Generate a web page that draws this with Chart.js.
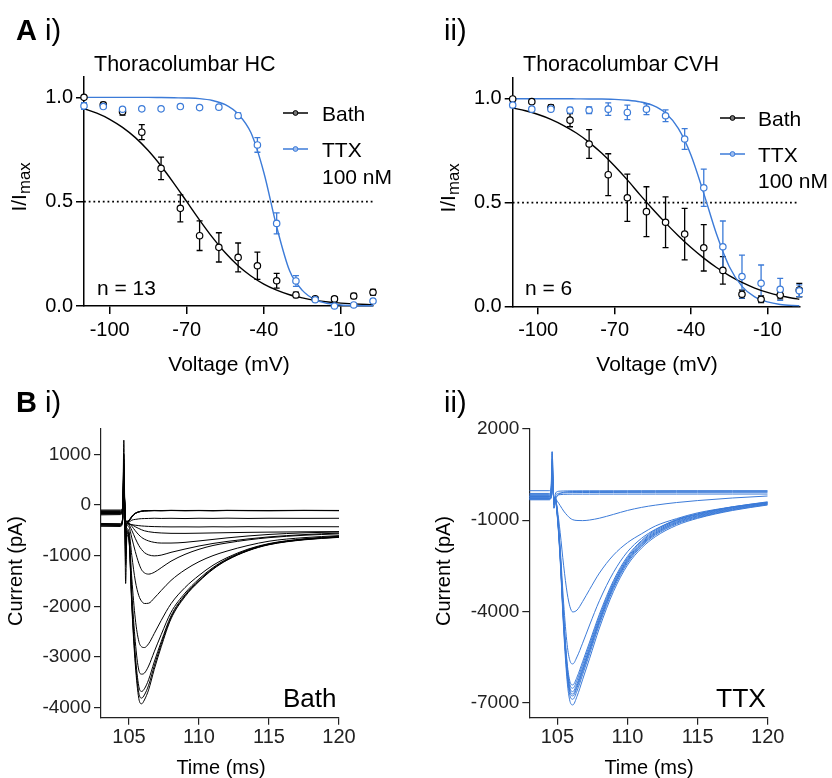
<!DOCTYPE html>
<html>
<head>
<meta charset="utf-8">
<script src="https://cdn.jsdelivr.net/npm/chart.js@4.4.1/dist/chart.umd.min.js"></script>
<style>
    body { margin: 0; background: #fff; }
    #fig { position: relative; width: 832px; height: 778px; font-family: "Liberation Sans", Arial, sans-serif; color: #000; overflow: hidden; }
    #fig canvas { position: absolute; }
    .t { position: absolute; white-space: nowrap; line-height: 1; transform: translateY(-50%); }
    .c { position: absolute; white-space: nowrap; line-height: 1; transform: translate(-50%, -50%); }
    .r { position: absolute; white-space: nowrap; line-height: 1; transform: translate(-50%, -50%) rotate(-90deg); }
    .r sub { font-size: 0.8em; vertical-align: -0.25em; }
</style>
</head>
<body>
<div id="fig">
    <canvas id="hcChart" width="416" height="390" style="left:0;top:0"></canvas>
    <canvas id="cvhChart" width="416" height="390" style="left:416px;top:0"></canvas>
    <canvas id="bathChart" width="416" height="388" style="left:0;top:390px"></canvas>
    <canvas id="ttxChart" width="416" height="388" style="left:416px;top:390px"></canvas>

    <div class="t" style="left:16px;top:30px;font-size:29px"><b>A</b> i)</div>
    <div class="t" style="left:444px;top:30px;font-size:29px">ii)</div>
    <div class="t" style="left:16px;top:402px;font-size:29px"><b>B</b> i)</div>
    <div class="t" style="left:444px;top:402px;font-size:29px">ii)</div>

    <div class="t" style="left:94px;top:65px;font-size:21.5px">Thoracolumbar HC</div>
    <div class="t" style="left:523px;top:65px;font-size:21.5px">Thoracolumbar CVH</div>

    <div class="t" style="left:322px;top:113px;font-size:21px">Bath</div>
    <div class="t" style="left:322px;top:149px;font-size:21px">TTX</div>
    <div class="t" style="left:322px;top:176px;font-size:21px">100 nM</div>
    <div class="t" style="left:758px;top:118px;font-size:21px">Bath</div>
    <div class="t" style="left:758px;top:154px;font-size:21px">TTX</div>
    <div class="t" style="left:758px;top:180px;font-size:21px">100 nM</div>

    <div class="t" style="left:97px;top:287px;font-size:21px">n = 13</div>
    <div class="t" style="left:525px;top:287px;font-size:21px">n = 6</div>

    <div class="r" style="left:21px;top:187px;font-size:21px">I/I<sub>max</sub></div>
    <div class="r" style="left:450px;top:188px;font-size:21px">I/I<sub>max</sub></div>
    <div class="c" style="left:229px;top:363px;font-size:21px">Voltage (mV)</div>
    <div class="c" style="left:657px;top:363px;font-size:21px">Voltage (mV)</div>

    <div class="r" style="left:15px;top:571px;font-size:20px">Current (pA)</div>
    <div class="r" style="left:443px;top:571px;font-size:20px">Current (pA)</div>
    <div class="c" style="left:221px;top:767px;font-size:20px">Time (ms)</div>
    <div class="c" style="left:649px;top:767px;font-size:20px">Time (ms)</div>
    <div class="t" style="left:283px;top:698px;font-size:26px">Bath</div>
    <div class="t" style="left:716px;top:698px;font-size:26.5px">TTX</div>
</div>

<script>
    const FONT = '"Liberation Sans", Arial, sans-serif';
    const BLACK = '#000';
    const BLUE = '#3c7bd8';

    /** steady-state inactivation, I/Imax (mean, SEM) **/
    const voltages = [-110, -102.5, -95, -87.5, -80, -72.5, -65, -57.5, -50, -42.5, -35, -27.5, -20, -12.5, -5, 2.5];

    const hcBath    = [1.0, 0.964, 0.931, 0.833, 0.660, 0.468, 0.337, 0.281, 0.233, 0.193, 0.121, 0.053, 0.034, 0.034, 0.048, 0.066];
    const hcBathSem = [0.006, 0.012, 0.016, 0.036, 0.054, 0.065, 0.071, 0.070, 0.069, 0.065, 0.035, 0.013, 0.010, 0.010, 0.012, 0.014];
    const hcTtx     = [0.959, 0.956, 0.943, 0.945, 0.945, 0.956, 0.951, 0.953, 0.912, 0.772, 0.396, 0.120, 0.030, 0.0, 0.005, 0.024];
    const hcTtxSem  = [0.016, 0.008, 0.006, 0.005, 0.005, 0.004, 0.004, 0.005, 0.013, 0.035, 0.050, 0.026, 0.008, 0.005, 0.005, 0.008];

    const cvhBath    = [0.999, 0.986, 0.958, 0.897, 0.782, 0.634, 0.523, 0.456, 0.405, 0.348, 0.282, 0.173, 0.058, 0.034, 0.054, 0.078];
    const cvhBathSem = [0.005, 0.006, 0.012, 0.032, 0.069, 0.101, 0.114, 0.120, 0.122, 0.124, 0.112, 0.066, 0.020, 0.016, 0.018, 0.032];
    const cvhTtx     = [0.970, 0.950, 0.950, 0.945, 0.945, 0.950, 0.934, 0.950, 0.918, 0.806, 0.571, 0.287, 0.143, 0.111, 0.082, 0.075];
    const cvhTtxSem  = [0.013, 0.005, 0.010, 0.013, 0.016, 0.030, 0.035, 0.026, 0.028, 0.050, 0.090, 0.124, 0.104, 0.088, 0.053, 0.028];

    /** Boltzmann fits, sampled **/
    const fitVoltages = [-110, -105, -100, -95, -90, -85, -80, -75, -70, -65, -60, -55, -50, -45, -40, -35, -30, -25, -20, -15, -10, -5, 0, 2.5];
    const hcBathFit  = [0.946, 0.924, 0.895, 0.856, 0.807, 0.745, 0.671, 0.588, 0.500, 0.412, 0.329, 0.255, 0.193, 0.144, 0.105, 0.076, 0.054, 0.039, 0.027, 0.019, 0.014, 0.010, 0.007, 0.006];
    const hcTtxFit   = [1.0, 1.0, 1.0, 1.0, 1.0, 1.0, 0.999, 0.998, 0.997, 0.994, 0.985, 0.965, 0.920, 0.830, 0.640, 0.380, 0.170, 0.075, 0.030, 0.012, 0.005, 0.002, 0.001, 0.001];
    const cvhBathFit = [0.956, 0.942, 0.924, 0.901, 0.871, 0.835, 0.790, 0.737, 0.676, 0.609, 0.537, 0.468, 0.402, 0.340, 0.283, 0.232, 0.187, 0.148, 0.115, 0.088, 0.067, 0.051, 0.039, 0.034];
    const cvhTtxFit  = [1.0, 1.0, 1.0, 1.0, 1.0, 0.9995, 0.999, 0.999, 0.997, 0.993, 0.985, 0.968, 0.931, 0.857, 0.728, 0.544, 0.348, 0.192, 0.096, 0.045, 0.021, 0.009, 0.004, 0.003];

    const voltageMin = -110;
    const voltageMax = 2.5;
    const voltageTicks = [-100, -70, -40, -10];
    const ratioTicks = [0, 0.5, 1];
    const halfMax = 0.5;

    /** example current traces (pA) **/
    const traceTimes = [103, 104.4, 104.55, 104.63, 104.7, 104.76, 104.85, 105, 105.2, 105.45, 105.7, 105.9, 106.1, 106.4, 106.8, 107.3, 108, 109, 110, 111, 112, 113.5, 115, 117.5, 120];

    const bathTraces = [
        [-420, -425, -300, 1280, -200, -1550, -600, -700, -2000, -3150, -3820, -3925, -3850, -3650, -3250, -2800, -2250, -1810, -1510, -1270, -1090, -905, -785, -688, -640],
        [-410, -405, -290, 1000, -180, -1180, -560, -680, -1940, -3065, -3710, -3813, -3750, -3560, -3180, -2750, -2220, -1790, -1500, -1260, -1085, -900, -780, -683, -635],
        [-395, -400, -280, 900, -170, -1000, -540, -660, -1880, -2960, -3580, -3682, -3630, -3450, -3100, -2700, -2190, -1775, -1490, -1255, -1080, -895, -776, -679, -630],
        [-385, -390, -270, 800, -160, -900, -520, -630, -1720, -2700, -3260, -3340, -3320, -3180, -2900, -2560, -2120, -1740, -1460, -1235, -1065, -885, -770, -675, -624],
        [-375, -380, -260, 750, -150, -800, -500, -590, -1450, -2250, -2690, -2800, -2815, -2740, -2540, -2280, -1950, -1630, -1390, -1190, -1040, -872, -762, -668, -618],
        [-365, -370, -250, 700, -140, -700, -470, -520, -1000, -1500, -1790, -1900, -1945, -1940, -1840, -1690, -1490, -1280, -1120, -1000, -910, -800, -715, -645, -605],
        [-195, -190, -110, 650, -80, -600, -400, -430, -650, -920, -1150, -1280, -1340, -1365, -1330, -1240, -1110, -975, -875, -800, -750, -690, -645, -598, -570],
        [-180, -175, -100, 600, -70, -500, -370, -390, -500, -660, -800, -880, -940, -985, -1005, -990, -935, -870, -810, -760, -720, -670, -630, -585, -555],
        [-170, -165, -95, 550, -60, -450, -350, -360, -420, -510, -590, -640, -675, -710, -738, -752, -752, -738, -710, -680, -650, -612, -582, -550, -532],
        [-160, -155, -90, 500, -55, -420, -360, -370, -390, -430, -465, -490, -510, -528, -543, -553, -560, -561, -557, -552, -547, -541, -536, -530, -526],
        [-150, -150, -85, 460, -50, -400, -370, -380, -390, -400, -408, -414, -418, -423, -427, -430, -433, -432, -434, -430, -433, -429, -432, -428, -430],
        [-140, -140, -80, 420, -40, -380, -350, -340, -300, -285, -275, -270, -268, -266, -262, -266, -263, -268, -262, -265, -260, -266, -262, -264, -263],
        [-130, -130, -70, 380, -30, -350, -340, -320, -240, -170, -140, -125, -118, -115, -112, -114, -110, -113, -111, -114, -110, -112, -113, -110, -112],
        [-115, -115, -60, 340, -20, -330, -330, -310, -230, -165, -135, -122, -116, -113, -110, -112, -108, -111, -109, -112, -108, -110, -111, -108, -110],
        [-100, -100, -55, 300, -20, -310, -320, -300, -220, -160, -132, -120, -114, -111, -108, -110, -106, -109, -107, -110, -106, -108, -109, -106, -108],
        [-160, -160, -90, 260, -60, -300, -330, -320, -235, -168, -138, -124, -117, -114, -111, -113, -109, -112, -110, -113, -109, -111, -112, -109, -111],
    ];

    const ttxTraces = [
        [-300, -300, -250, 1250, 200, -600, -350, -900, -2300, -4600, -6300, -6960, -7080, -6800, -6250, -5550, -4550, -3350, -2480, -1920, -1540, -1170, -940, -680, -500],
        [-280, -280, -230, 900, 100, -450, -330, -865, -2231, -4473, -6133, -6775, -6894, -6623, -6087, -5399, -4427, -3256, -2410, -1861, -1490, -1127, -915, -660, -485],
        [-260, -260, -210, 700, 50, -400, -310, -837, -2185, -4396, -6034, -6667, -6784, -6517, -5988, -5310, -4351, -3196, -2361, -1819, -1454, -1095, -890, -640, -470],
        [-240, -240, -190, 600, 0, -350, -290, -813, -2151, -4348, -5974, -6602, -6719, -6453, -5929, -5255, -4302, -3156, -2326, -1788, -1426, -1069, -865, -620, -455],
        [-220, -220, -170, 500, -20, -330, -270, -788, -2114, -4291, -5903, -6525, -6641, -6378, -5858, -5190, -4246, -3109, -2288, -1755, -1395, -1042, -845, -600, -440],
        [-200, -200, -150, 450, -30, -310, -250, -760, -2068, -4214, -5803, -6417, -6531, -6271, -5759, -5100, -4170, -3049, -2239, -1713, -1359, -1010, -820, -580, -425],
        [-180, -180, -130, 400, -40, -300, -230, -732, -2021, -4137, -5704, -6310, -6422, -6166, -5660, -5011, -4094, -2989, -2190, -1672, -1322, -979, -800, -560, -410],
        [-300, -300, -240, 650, 30, -380, -320, -780, -1900, -3740, -5100, -5630, -5730, -5500, -5050, -4450, -3650, -2720, -2040, -1600, -1300, -1000, -790, -570, -430],
        [-300, -300, -240, 550, 0, -350, -320, -650, -1400, -2500, -3400, -3850, -4020, -3960, -3680, -3280, -2740, -2150, -1740, -1450, -1190, -950, -760, -560, -395],
        [-150, -150, -100, 500, 0, -330, -300, -380, -520, -700, -840, -930, -985, -1010, -1015, -995, -935, -810, -680, -580, -505, -420, -355, -270, -205],
        [-30, -30, 10, 1250, 300, -450, -150, -60, -45, -40, -38, -36, -35, -35, -34, -33, -33, -32, -32, -31, -31, -30, -30, -30, -30],
        [-120, -120, -80, 1000, 200, -610, -250, -130, -110, -100, -96, -94, -92, -92, -90, -90, -88, -88, -86, -86, -85, -84, -84, -83, -82],
        [-220, -220, -170, 800, 100, -500, -300, -180, -160, -150, -148, -146, -145, -145, -144, -144, -143, -143, -142, -142, -141, -141, -140, -140, -140],
        [-330, -330, -280, 600, 0, -400, -320, -200, -120, -80, -65, -60, -58, -56, -55, -55, -54, -54, -53, -53, -52, -52, -52, -51, -51],
    ];

    const timeMin = 103;
    const timeMax = 120;
    const timeTicks = [105, 110, 115, 120];
    const bathCurrentTicks = [1000, 0, -1000, -2000, -3000, -4000];
    const ttxCurrentTicks = [2000, -1000, -4000, -7000];

    const pts = (xs, ys) => xs.map((x, i) => ({x: x, y: ys[i]}));

    /** SEM bars under the points **/
    const errorBars = {
        id: 'errorBars',
        beforeDatasetsDraw(chart) {
            const {ctx, scales: {x, y}} = chart;
            chart.data.datasets.forEach(ds => {
                if (!ds.errors) return;
                ctx.save();
                ctx.strokeStyle = ds.borderColor;
                ctx.lineWidth = 1.3;
                ds.data.forEach((p, i) => {
                    const e = ds.errors[i];
                    const px = x.getPixelForValue(p.x);
                    const top = y.getPixelForValue(p.y + e);
                    const bot = y.getPixelForValue(p.y - e);
                    ctx.beginPath();
                    ctx.moveTo(px, top); ctx.lineTo(px, bot);
                    ctx.moveTo(px - 3, top); ctx.lineTo(px + 3, top);
                    ctx.moveTo(px - 3, bot); ctx.lineTo(px + 3, bot);
                    ctx.stroke();
                });
                ctx.restore();
            });
        }
    };

    /** line + marker swatches next to the html key labels **/
    const seriesKey = {
        id: 'seriesKey',
        afterDraw(chart, args, o) {
            if (!o.rows) return;
            const ctx = chart.ctx;
            o.rows.forEach(r => {
                ctx.save();
                ctx.strokeStyle = r.color;
                ctx.lineWidth = 1.5;
                ctx.beginPath();
                ctx.moveTo(o.x0, r.y); ctx.lineTo(o.x1, r.y);
                ctx.stroke();
                ctx.beginPath();
                ctx.arc((o.x0 + o.x1) / 2, r.y, 2.4, 0, Math.PI * 2);
                ctx.fillStyle = r.fill;
                ctx.fill();
                ctx.lineWidth = 1;
                ctx.stroke();
                ctx.restore();
            });
        }
    };

    function linearAxis(cfg)
    {
        return {
            type: 'linear',
            min: cfg.min,
            max: cfg.max,
            afterBuildTicks: axis => { axis.ticks = cfg.ticks.map(v => ({value: v})); },
            afterFit: axis => {
                if (cfg.width) axis.width = cfg.width;
                if (cfg.height) axis.height = cfg.height;
            },
            ticks: {
                color: cfg.color,
                padding: cfg.padding,
                autoSkip: false,
                maxRotation: 0,
                font: {family: FONT, size: cfg.fontSize},
                callback: cfg.format || (v => String(v)),
            },
            grid: {
                drawOnChartArea: false,
                drawTicks: true,
                tickLength: cfg.tickLength,
                color: cfg.color,
                lineWidth: cfg.lineWidth,
            },
            border: {display: true, color: cfg.color, width: cfg.lineWidth},
        };
    }

    const baseOptions = {
        responsive: false,
        animation: false,
        events: [],
    };

    function pointSet(values, sem, color, order)
    {
        return {
            data: pts(voltages, values),
            errors: sem,
            borderColor: color,
            showLine: false,
            pointRadius: 3.2,
            pointBorderWidth: 1.2,
            pointBorderColor: color,
            pointBackgroundColor: '#fff',
            clip: false,
            order: order,
        };
    }

    function fitSet(values, color, order)
    {
        return {
            data: pts(fitVoltages, values),
            borderColor: color,
            borderWidth: 1.4,
            pointRadius: 0,
            cubicInterpolationMode: 'monotone',
            clip: false,
            order: order,
        };
    }

    function curveChart(id, d)
    {
        return new Chart(document.getElementById(id), {
            type: 'line',
            data: {
                datasets: [
                    pointSet(d.bath, d.bathSem, BLACK, 2),
                    pointSet(d.ttx, d.ttxSem, BLUE, 1),
                    fitSet(d.bathFit, BLACK, 4),
                    fitSet(d.ttxFit, BLUE, 3),
                    {
                        data: [{x: voltageMin, y: halfMax}, {x: voltageMax, y: halfMax}],
                        borderColor: BLACK,
                        borderWidth: 1.8,
                        borderDash: [1.8, 2.9],
                        pointRadius: 0,
                        order: 5,
                    },
                ],
            },
            options: {
                ...baseOptions,
                layout: {padding: d.padding},
                scales: {
                    x: linearAxis({min: voltageMin, max: voltageMax, ticks: voltageTicks, height: d.xHeight,
                        color: BLACK, fontSize: 20, padding: 4, tickLength: 8, lineWidth: 1.5}),
                    y: linearAxis({min: 0, max: 1.1, ticks: ratioTicks, width: d.yWidth,
                        color: BLACK, fontSize: 20, padding: 3, tickLength: 8, lineWidth: 1.5,
                        format: v => v.toFixed(1)}),
                },
                plugins: {
                    legend: {display: false},
                    tooltip: {enabled: false},
                    seriesKey: d.key,
                },
            },
            plugins: [errorBars, seriesKey],
        });
    }

    function traceChart(id, traces, color, d)
    {
        return new Chart(document.getElementById(id), {
            type: 'line',
            data: {
                datasets: traces.map(v => ({
                    data: pts(traceTimes, v),
                    borderColor: color,
                    borderWidth: 1,
                    pointRadius: 0,
                    cubicInterpolationMode: 'monotone',
                })),
            },
            options: {
                ...baseOptions,
                layout: {padding: d.padding},
                scales: {
                    x: linearAxis({min: timeMin, max: timeMax, ticks: timeTicks, height: d.xHeight,
                        color: '#222', fontSize: 20, padding: 1, tickLength: 7, lineWidth: 1.2}),
                    y: linearAxis({min: d.yMin, max: d.yMax, ticks: d.yTicks, width: d.yWidth,
                        color: '#222', fontSize: 19, padding: 3, tickLength: 7, lineWidth: 1.2}),
                },
                plugins: {legend: {display: false}, tooltip: {enabled: false}},
            },
        });
    }

    curveChart('hcChart', {
        bath: hcBath, bathSem: hcBathSem, ttx: hcTtx, ttxSem: hcTtxSem,
        bathFit: hcBathFit, ttxFit: hcTtxFit,
        padding: {left: 0, top: 76.5, right: 43, bottom: 0}, yWidth: 84, xHeight: 84,
        key: {x0: 283, x1: 308, rows: [{y: 113, color: BLACK, fill: '#777'}, {y: 149, color: BLUE, fill: '#9dbdf0'}]},
    });

    curveChart('cvhChart', {
        bath: cvhBath, bathSem: cvhBathSem, ttx: cvhTtx, ttxSem: cvhTtxSem,
        bathFit: cvhBathFit, ttxFit: cvhTtxFit,
        padding: {left: 0, top: 78, right: 32.7, bottom: 0}, yWidth: 96.7, xHeight: 83.7,
        key: {x0: 304, x1: 329, rows: [{y: 118, color: BLACK, fill: '#777'}, {y: 154, color: BLUE, fill: '#9dbdf0'}]},
    });

    traceChart('bathChart', bathTraces, '#000', {
        yMin: -4200, yMax: 1500, yTicks: bathCurrentTicks,
        padding: {left: 0, top: 39, right: 77, bottom: 0}, yWidth: 101, xHeight: 60.3,
    });

    traceChart('ttxChart', ttxTraces, BLUE, {
        yMin: -7500, yMax: 2000, yTicks: ttxCurrentTicks,
        padding: {left: 0, top: 39, right: 64.3, bottom: 0}, yWidth: 113.3, xHeight: 60.3,
    });
</script>
</body>
</html>
